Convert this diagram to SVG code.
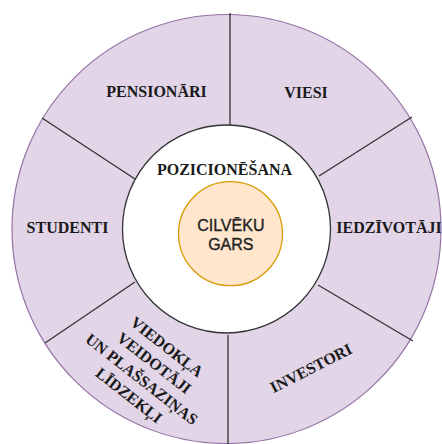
<svg xmlns="http://www.w3.org/2000/svg" width="442" height="444" viewBox="0 0 442 444">
  <style>
    .ring { fill: #e1d5e7; stroke: #9673a6; stroke-width: 1.2; }
    .hub { fill: #ffffff; stroke: #333333; stroke-width: 1.3; }
    .core { fill: #ffe6cc; stroke: #d79b00; stroke-width: 1.3; }
    .div { stroke: #333333; stroke-width: 1.3; fill: none; }
    .lbl { font-weight: bold; font-size: 16px; fill: #1a1a1a; text-anchor: middle; }
    .core-lbl { font-size: 16px; fill: #222222; stroke: #222222; stroke-width: 0.35; text-anchor: middle; }
  </style>
  <rect width="442" height="444" fill="#ffffff"/>

  <g id="ring">
    <circle class="ring" cx="226.5" cy="229" r="214.5"/>
  </g>

  <g id="connectors">
    <line class="div" x1="230" y1="13" x2="230" y2="125"/>
    <line class="div" x1="42" y1="118" x2="135" y2="179"/>
    <line class="div" x1="412" y1="117" x2="319" y2="176"/>
    <line class="div" x1="45" y1="343" x2="135" y2="282"/>
    <line class="div" x1="413" y1="341" x2="318" y2="285"/>
    <line class="div" x1="228" y1="335" x2="228" y2="444"/>
  </g>

  <g id="segment-labels" font-family="'Liberation Serif', 'DejaVu Serif', serif">
    <g id="pensionari">
      <text class="lbl" x="156.5" y="97">PENSIONĀRI</text>
    </g>
    <g id="viesi">
      <text class="lbl" x="306" y="98">VIESI</text>
    </g>
    <g id="studenti">
      <text class="lbl" x="67.5" y="233">STUDENTI</text>
    </g>
    <g id="iedzivotaji">
      <text class="lbl" x="389" y="233">IEDZĪVOTĀJI</text>
    </g>
    <g id="investori">
      <text class="lbl" transform="translate(311,368) rotate(-27)" x="0" y="5.5">INVESTORI</text>
    </g>
    <g id="viedokla-veidotaji">
      <g transform="translate(148,371) rotate(38)">
        <text class="lbl" x="0" y="-25.2">VIEDOKĻA</text>
        <text class="lbl" x="0" y="-4.7">VEIDOTĀJI</text>
        <text class="lbl" x="0" y="15.8">UN PLAŠSAZIŅAS</text>
        <text class="lbl" x="0" y="36.3">LĪDZEKĻI</text>
      </g>
    </g>
  </g>

  <g id="pozicionesana">
    <circle class="hub" cx="226.5" cy="229" r="104"/>
    <text class="lbl" font-family="'Liberation Serif', 'DejaVu Serif', serif" x="224.5" y="175">POZICIONĒŠANA</text>
  </g>

  <g id="cilveku-gars" font-family="'Liberation Sans', Arial, sans-serif">
    <circle class="core" cx="230.5" cy="233.7" r="52"/>
    <text class="core-lbl" x="230.8" y="231">CILVĒKU</text>
    <text class="core-lbl" x="230.8" y="249.5">GARS</text>
  </g>
</svg>
